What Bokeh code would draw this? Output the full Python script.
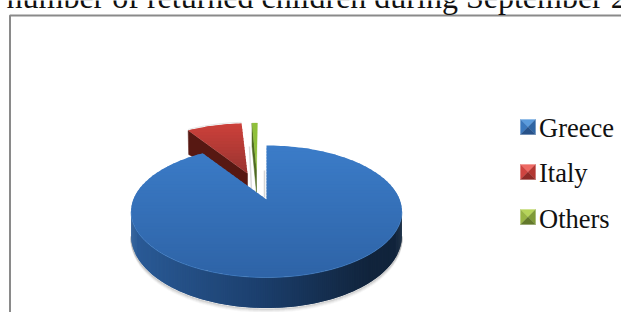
import numpy as np
from bokeh.plotting import figure
from bokeh.models import Range1d
from bokeh.core.properties import value
from bokeh.embed import file_html
from bokeh.resources import INLINE

# ---- data
categories = ["Greece", "Italy", "Others"]
shares = [90.7, 8.4, 0.9]
title_text = "number of returned children during September 2"

# ---- helpers
W, H = 621, 312
PERSP, RX, RY = 0.182, 133.2, 63.8
ends = np.cumsum(shares) / sum(shares) * 360.0
g_end, i_end = ends[0], ends[1]


def rim(theta, x0, y0, s=1.0):
    t = np.radians(theta)
    u, v = np.sin(t), np.cos(t)
    return x0 + s * RX * u / (1 + PERSP * v), y0 - s * RY * v / (1 + PERSP * v)


def clip(xs, ys, y_lo, y_hi):
    pts = list(zip(xs, ys))
    for keep, lim in ((lambda y: y >= y_lo, y_lo), (lambda y: y <= y_hi, y_hi)):
        out = []
        for i in range(len(pts)):
            a, b = pts[i], pts[(i + 1) % len(pts)]
            if keep(a[1]):
                out.append(a)
            if keep(a[1]) != keep(b[1]):
                k = (lim - a[1]) / (b[1] - a[1])
                out.append((a[0] + k * (b[0] - a[0]), lim))
        pts = out
        if not pts:
            return [], []
    return [q[0] for q in pts], [q[1] for q in pts]


def mix(c1, c2, k):
    k = float(np.clip(k, 0, 1))
    return "#%02x%02x%02x" % tuple(int(round(a + (b - a) * k)) for a, b in zip(c1, c2))


p = figure(width=W, height=H, output_backend="svg", toolbar_location=None,
           x_range=Range1d(0, W), y_range=Range1d(H, 0), min_border=0)
p.axis.visible = False
p.grid.visible = False
p.outline_line_color = None
p.background_fill_color = "white"
p.border_fill_color = "white"


def gradient(xs, ys, top, bot, c1, c2, step=3):
    bx, by, col = [], [], []
    y = top
    while y < bot:
        cx, cy = clip(xs, ys, y, y + step + 1)
        if cx:
            bx.append(cx); by.append(cy)
            col.append(mix(c1, c2, (y - top) / (bot - top)))
        y += step
    p.patches(bx, by, fill_color=col, line_color=None)


# frame
p.line([9.5, 9.5, W], [H, 15, 15], line_color="#8a8a8a", line_width=2)

# title
p.text([6], [-3.5], text=[title_text], text_font=value("Liberation Serif"),
       text_font_size="32px", text_baseline="alphabetic", text_color="#111111")

# Greece geometry
GX, GY = 266, 199
front = np.linspace(100.5, 259.5, 200)
fx, fy = rim(front, GX, GY)
fv = np.cos(np.radians(front))
depth = 22 - 8.5 * fv * (fv < 0)

# soft shadow below the wall
for off, alpha in ((1, 0.22), (2, 0.14), (3, 0.08), (4, 0.04)):
    p.line(fx, fy + depth + off, line_color="#555555", line_width=1.5, line_alpha=alpha)

# Greece side wall
wall_x, wall_y, wall_c = [], [], []
for i in range(len(front) - 2):
    j = i + 2
    wall_x.append([fx[i], fx[j], fx[j], fx[i]])
    wall_y.append([fy[i], fy[j], fy[j] + depth[j], fy[i] + depth[i]])
    k = (fx[i] - fx.min()) / (fx.max() - fx.min())
    if k < 0.5:
        wall_c.append(mix((0x2b, 0x5c, 0x98), (0x1b, 0x3e, 0x6c), k * 2))
    else:
        wall_c.append(mix((0x1b, 0x3e, 0x6c), (0x11, 0x24, 0x3c), (k - 0.5) * 2.6))
order = np.argsort(fx[:-2])
p.patches([wall_x[i] for i in order], [wall_y[i] for i in order],
          fill_color=[wall_c[i] for i in order], line_color=None)

# Others slice
OX, OY = 256, 169
o_a, o_b = i_end, 360.0
ox, oy = rim(np.linspace(o_a, o_b, 4), OX + 1, OY, 0.86)
p.patch([ox[0], ox[0], OX, OX], [oy[0], oy[0] + 23, OY + 23, OY],
        fill_color="#4f6a22", line_color="#4f6a22", line_width=0.5)
p.patch(list(ox) + [OX], list(oy) + [OY], fill_color="#8fc03a", line_color="#8fc03a", line_width=0.3)
p.line([249, 251], [146, 190], line_color="#999999", line_width=1.5, line_alpha=0.35)

# Italy slice
IX, IY = 247, 173
it = np.linspace(g_end, i_end, 20)
ix, iy = rim(it, IX, IY, 0.93)
p.patch([ix[0], ix[0] + 0.5, IX, IX], [iy[0], iy[0] + 24, IY + 14, IY],
        fill_color="#571812", line_color="#571812", line_width=0.5)
ipx, ipy = list(ix) + [IX], list(iy) + [IY]
gradient(ipx, ipy, min(ipy), max(ipy), (0xcb, 0x40, 0x3a), (0x98, 0x34, 0x30))
p.line(ix, iy - 1, line_color="#999999", line_width=1, line_alpha=0.25)

# Greece top face
gt = np.linspace(0, g_end, 180)
gx, gy = rim(gt, GX, GY)
gpx, gpy = list(gx) + [GX], list(gy) + [GY]
gradient(gpx, gpy, min(gpy), max(gpy), (0x3b, 0x7c, 0xc8), (0x2e, 0x63, 0xa6))
p.line(fx, fy, line_color="#4583cc", line_width=1, line_alpha=0.6)
p.line([GX - 2, GX - 2], [170, 197], line_color="#888888", line_width=1.5, line_alpha=0.35)

# legend
SW = 15
legend_tops = [119, 164, 209]
legend_base = [127, 172, 218]
palette = [
    ("#5b9bdc", "#3b78bd", "#2f65a3", "#27528a"),
    ("#ee6a64", "#cf4440", "#b33733", "#8f2a27"),
    ("#b6d45a", "#98b544", "#7f9a38", "#63792b"),
]
for name, t, b, (top_c, left_c, right_c, bot_c) in zip(categories, legend_tops, legend_base, palette):
    x0, x1, y0, y1 = 520, 520 + SW, t, t + SW
    mx, my = (x0 + x1) / 2, (y0 + y1) / 2
    p.patches([[x0, x1, mx], [x0, mx, x0], [x1, mx, x1], [x0, x1, mx]],
              [[y0, y0, my], [y0, my, y1], [y0, my, y1], [y1, y1, my]],
              fill_color=[top_c, left_c, right_c, bot_c], line_color=[top_c, left_c, right_c, bot_c],
              line_width=0.3)
    p.text([538.5], [b], text=[name], text_font=value("Liberation Serif"), text_font_size="26.5px",
           text_baseline="alphabetic", text_color="#111111")

open("out.html", "w").write(file_html(p, INLINE))
